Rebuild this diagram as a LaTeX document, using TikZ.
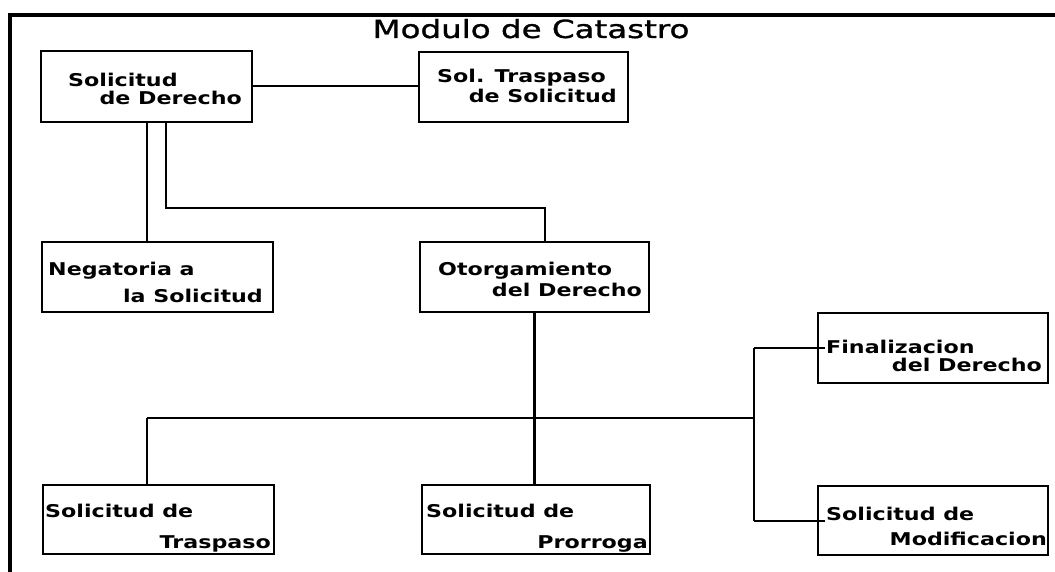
\documentclass[tikz,border=0pt]{standalone}
\usepackage{fontspec}
\newfontfamily\boxfont[FakeStretch=1.26]{DejaVu Sans}
\newfontfamily\ttlfont[FakeStretch=1.3,FakeBold=1.2]{DejaVu Sans}
\tikzset{
  frameline/.style={line width=3.2pt},
  boxnode/.style={draw, line width=2.2pt, inner sep=0pt},
  conn/.style={line width=2pt},
  thickconn/.style={line width=2.8pt},
  lbl/.style={inner sep=0pt, font=\boxfont\bfseries\fontsize{17.6}{20}\selectfont},
  ttl/.style={inner sep=0pt, font=\ttlfont\fontsize{25}{28}\selectfont}
}
\begin{document}
\begin{tikzpicture}[x=1pt,y=-1pt]
\useasboundingbox (0,0) rectangle (1055,572);
% frame
\coordinate (fbl) at (10,573);
\coordinate (ftl) at (10,15);
\coordinate (ftr) at (1056,15);
\draw[frameline] (fbl) -- (ftl) -- (ftr);
% title
\node[ttl, anchor=base] (title) at (531,38) {Modulo de Catastro};
% boxes
\node[boxnode, minimum width=211pt, minimum height=71pt] (b1) at (146.5,86.5) {};
\node[boxnode, minimum width=209pt, minimum height=70pt] (b2) at (523.5,87) {};
\node[boxnode, minimum width=231pt, minimum height=70pt] (b3) at (157.5,277) {};
\node[boxnode, minimum width=229pt, minimum height=70pt] (b4) at (534.5,277) {};
\node[boxnode, minimum width=230pt, minimum height=70pt] (b5) at (933,348) {};
\node[boxnode, minimum width=230pt, minimum height=69pt] (b6) at (933,520.5) {};
\node[boxnode, minimum width=231pt, minimum height=69pt] (b7) at (158.5,519.5) {};
\node[boxnode, minimum width=228pt, minimum height=69pt] (b8) at (536,519.5) {};
% labels
\node[lbl, anchor=base west] (t1a) at (68,87) {Solicitud};
\node[lbl, anchor=base east] (t1b) at (242,105) {de Derecho};
\node[lbl, anchor=base west] (t2a) at (437,83) {Sol. Traspaso};
\node[lbl, anchor=base east] (t2b) at (617,103) {de Solicitud};
\node[lbl, anchor=base west] (t3a) at (48,275) {Negatoria a};
\node[lbl, anchor=base east] (t3b) at (263,302) {la Solicitud};
\node[lbl, anchor=base west] (t4a) at (438,276) {Otorgamiento};
\node[lbl, anchor=base east] (t4b) at (642,296) {del Derecho};
\node[lbl, anchor=base west] (t5a) at (826,353) {Finalizacion};
\node[lbl, anchor=base east] (t5b) at (1042,371) {del Derecho};
\node[lbl, anchor=base west] (t6a) at (826,520) {Solicitud de};
\node[lbl, anchor=base east] (t6b) at (1047,545) {Modificacion};
\node[lbl, anchor=base west] (t7a) at (45,517) {Solicitud de};
\node[lbl, anchor=base east] (t7b) at (271,548) {Traspaso};
\node[lbl, anchor=base west] (t8a) at (426,517) {Solicitud de};
\node[lbl, anchor=base east] (t8b) at (648,548) {Prorroga};
% connectors
\draw[conn] (b1.east) -- (b1.east -| b2.west);
\draw[conn] (b1.south) -- (b1.south |- b3.north);
\coordinate (e1) at (166,208);
\coordinate (e2) at (545,208);
\draw[thickconn] (b1.south -| e1) -- (e1) -- (e2) -- (e2 |- b4.north);
\draw[thickconn] (b4.south) -- (b4.south |- b8.north);
\coordinate (hl) at (147,418);
\coordinate (hr) at (754,418);
\draw[conn] (hl) -- (hr);
\draw[conn] (hl) -- (hl |- b7.north);
\coordinate (vt) at (754,348);
\coordinate (vb) at (754,520.5);
\draw[conn] (vt) -- (vb);
\draw[conn] (vt) -- ([xshift=8pt]b5.west);
\draw[conn] (vb) -- ([xshift=8pt]b6.west);
\end{tikzpicture}
\end{document}
